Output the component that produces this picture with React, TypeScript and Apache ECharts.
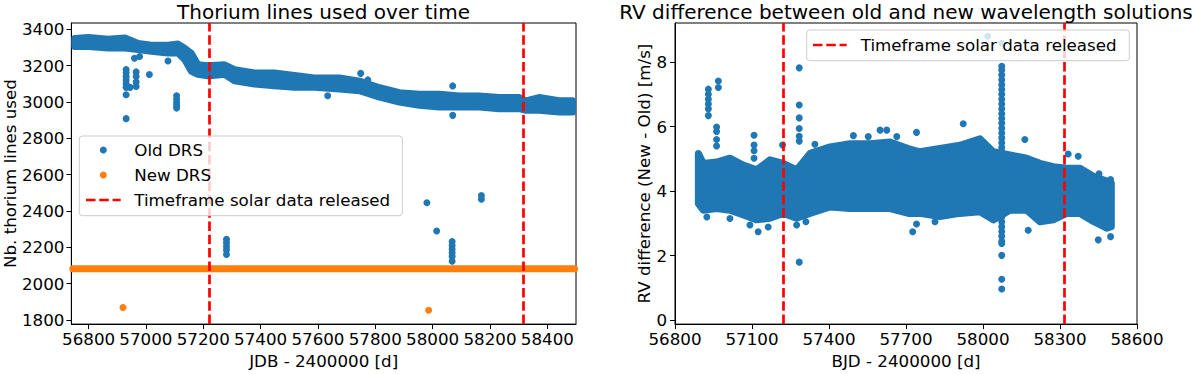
import React, { useEffect, useRef } from 'react';
import * as echarts from 'echarts';

const BLUE = '#1f77b4';
const ORANGE = '#ff7f0e';
const RED = '#ff0000';
const FONT = 'DejaVu Sans';

// ---------- Left panel: Thorium lines used over time ----------
const thBandX = [56752, 56800, 56868, 56927, 56973, 57019, 57077, 57112, 57135, 57158, 57181, 57216, 57274, 57309, 57379, 57448, 57518, 57587, 57675, 57745, 57815, 57884, 57954, 58023, 58093, 58162, 58232, 58302, 58325, 58371, 58441, 58488];
const thBandTop = [3349, 3354, 3345, 3352, 3322, 3312, 3312, 3318, 3295, 3268, 3204, 3199, 3204, 3177, 3159, 3159, 3145, 3132, 3132, 3114, 3078, 3051, 3042, 3042, 3033, 3033, 3024, 3024, 3006, 3024, 3006, 3006];
const thBandBottom = [3305, 3305, 3296, 3296, 3288, 3278, 3269, 3269, 3234, 3170, 3152, 3143, 3152, 3116, 3098, 3089, 3080, 3080, 3071, 3062, 3026, 2999, 2981, 2972, 2972, 2972, 2963, 2963, 2954, 2954, 2945, 2945];
const thOldOutX = [56931, 56931, 56931, 56931, 56931, 56931, 56931, 56931, 56945, 56966, 56966, 56966, 56966, 56960, 56978, 57077, 57012, 57107, 57107, 57107, 57107, 57107, 57634, 57749, 57774, 58070, 58070, 57281, 57281, 57281, 57281, 57281, 57980, 58014, 58068, 58068, 58068, 58068, 58068, 58068, 58170, 58170];
const thOldOutY = [3178, 3160, 3140, 3120, 3100, 3080, 3039, 2908, 3080, 3165, 3140, 3110, 3085, 3240, 3250, 3225, 3151, 3034, 3015, 2995, 2980, 2966, 3034, 3157, 3121, 3088, 2926, 2245, 2225, 2205, 2185, 2161, 2445, 2290, 2232, 2210, 2190, 2170, 2150, 2124, 2485, 2465];
const thNewX = [56745, 57200, 57800, 58495];
const thNewY = [2083, 2083, 2083, 2083];
const thNewOutX = [56920, 57986];
const thNewOutY = [1869, 1854];
const releaseDates = [57222, 58315];
const leftXTicks = [56800, 57000, 57200, 57400, 57600, 57800, 58000, 58200, 58400];
const leftYTicks = [1800, 2000, 2200, 2400, 2600, 2800, 3000, 3200, 3400];

// ---------- Right panel: RV difference ----------
const rvBandX = [56891, 56910, 56962, 57014, 57066, 57118, 57170, 57222, 57274, 57326, 57404, 57482, 57560, 57638, 57709, 57754, 57832, 57910, 57988, 58040, 58105, 58170, 58222, 58274, 58326, 58378, 58430, 58482, 58500];
const rvBandTop = [5.17, 4.86, 4.9, 5.02, 4.81, 4.66, 4.97, 4.86, 4.66, 5.17, 5.37, 5.47, 5.47, 5.52, 5.32, 5.22, 5.32, 5.42, 5.62, 5.22, 5.12, 5.02, 4.86, 4.76, 4.71, 4.71, 4.46, 4.31, 4.25];
const rvBandBottom = [3.61, 3.41, 3.46, 3.41, 3.26, 3.11, 3.16, 3.31, 3.16, 3.31, 3.51, 3.46, 3.46, 3.46, 3.31, 3.31, 3.21, 3.31, 3.36, 3.11, 3.41, 3.41, 3.05, 3.11, 3.31, 3.31, 3.06, 2.85, 2.9];
const rvOutX = [
  56930, 56930, 56930, 56930, 56930, 56930, 56969, 56969,
  56962, 56962, 56962, 56962,
  57108, 57108, 57108, 57108,
  57284, 57284, 57284, 57284, 57284, 57284, 57284, 57219,
  57124, 57092, 57163, 57274, 57310, 57014, 56924,
  57345, 57495, 57553, 57599, 57625, 57664, 57741, 57923, 58163, 58332, 58371, 58452, 58497,
  57726, 57741, 57813, 58176, 58449, 58497,
  58018, 58073, 58073, 58073, 58073, 58073, 58073, 58073, 58073, 58073, 58073, 58073, 58073, 58073, 58073, 58073, 58073, 58073, 58073, 58073, 58073,
  58073, 58073, 58073, 58073, 58073, 58073, 58073, 58073, 58073, 58073,
];
const rvOutY = [
  7.16, 7.0, 6.85, 6.7, 6.55, 6.34, 7.41, 7.21,
  5.99, 5.85, 5.6, 5.4,
  5.73, 5.43, 5.25, 5.02,
  7.82, 6.67, 6.27, 5.94, 5.7, 5.55, 1.8, 5.43,
  2.74, 2.95, 2.89, 2.95, 3.05, 3.15, 3.2,
  5.45, 5.72, 5.69, 5.89, 5.89, 5.69, 5.82, 6.09, 5.6, 5.15, 5.08, 4.54, 4.36,
  2.74, 2.98, 3.05, 2.79, 2.49, 2.59,
  8.8, 8.58, 7.87, 7.75, 7.6, 7.45, 7.3, 7.15, 7.0, 6.85, 6.7, 6.55, 6.4, 6.25, 6.1, 5.95, 5.8, 5.65, 5.5, 5.35, 5.23,
  3.2, 3.05, 2.9, 2.75, 2.6, 2.45, 2.38, 2.01, 1.27, 0.97, 0.3,
];
const rightXTicks = [56800, 57100, 57400, 57700, 58000, 58300, 58600];
const rightYTicks = [0, 2, 4, 6, 8];

const zip = (xs: number[], ys: number[]) => xs.map((x, i) => [x, ys[i]]);

function bandSeries(idx: number, xs: number[], top: number[], bottom: number[], color: string) {
  return {
    type: 'custom',
    coordinateSystem: 'cartesian2d',
    xAxisIndex: idx,
    yAxisIndex: idx,
    silent: true,
    z: 2,
    data: [[xs[0], top[0]]],
    renderItem: (_params: any, api: any) => {
      const pts: number[][] = [];
      for (let i = 0; i < xs.length; i++) pts.push(api.coord([xs[i], top[i]]));
      for (let i = xs.length - 1; i >= 0; i--) pts.push(api.coord([xs[i], bottom[i]]));
      return {
        type: 'polygon',
        shape: { points: pts },
        style: { fill: color, stroke: color, lineWidth: 7, lineJoin: 'round' },
      };
    },
  };
}

function axisCommon(ticks: number[], margin: number) {
  return {
    type: 'value',
    splitLine: { show: false },
    axisLine: { show: true, onZero: false, lineStyle: { color: '#000', width: 1 } },
    axisTick: { show: true, length: 5, inside: false, lineStyle: { color: '#000' }, customValues: ticks },
    axisLabel: {
      customValues: ticks,
      fontSize: 16.7,
      color: '#000',
      fontFamily: FONT,
      margin,
      hideOverlap: false,
      showMinLabel: true,
      showMaxLabel: true,
      formatter: (v: number) => String(v),
    },
    nameLocation: 'middle',
    nameTextStyle: { fontSize: 16.7, color: '#000', fontFamily: FONT },
  };
}

function redLines(idx: number) {
  return {
    type: 'line',
    xAxisIndex: idx,
    yAxisIndex: idx,
    data: [],
    z: 10,
    silent: true,
    markLine: {
      symbol: ['none', 'none'],
      silent: true,
      animation: false,
      label: { show: false },
      lineStyle: { color: RED, width: 2.7, type: [9.5, 3.8] },
      data: releaseDates.map((d) => ({ xAxis: d })),
    },
  };
}

export default function App() {
  const ref = useRef<HTMLDivElement>(null);
  useEffect(() => {
    if (!ref.current) return;
    const chart = echarts.init(ref.current, undefined, { renderer: 'svg' });
    const textStyle = { fontFamily: FONT, fill: '#000' };
    chart.setOption({
      animation: false,
      backgroundColor: '#fff',
      textStyle: { fontFamily: FONT },
      grid: [
        { left: 71, top: 23, width: 505, height: 306, show: true, borderColor: '#000', borderWidth: 1, backgroundColor: 'transparent' },
        { left: 675, top: 23, width: 462, height: 306, show: true, borderColor: '#000', borderWidth: 1, backgroundColor: 'transparent' },
      ],
      xAxis: [
        { ...axisCommon(leftXTicks, 6), gridIndex: 0, min: 56740, max: 58500, name: 'JDB - 2400000 [d]', nameGap: 23 },
        { ...axisCommon(rightXTicks, 6), gridIndex: 1, min: 56800, max: 58600, name: 'BJD - 2400000 [d]', nameGap: 23 },
      ],
      yAxis: [
        { ...axisCommon(leftYTicks, 7), gridIndex: 0, min: 1778, max: 3434, name: 'Nb. thorium lines used', nameGap: 53 },
        { ...axisCommon(rightYTicks, 8), gridIndex: 1, min: -0.12, max: 9.21, name: 'RV difference (New - Old) [m/s]', nameGap: 21 },
      ],
      series: [
        bandSeries(0, thBandX, thBandTop, thBandBottom, BLUE),
        {
          type: 'scatter', name: 'Old DRS', xAxisIndex: 0, yAxisIndex: 0, symbolSize: 7, z: 3, silent: true,
          itemStyle: { color: BLUE, opacity: 1 }, data: zip(thOldOutX, thOldOutY),
        },
        {
          type: 'line', name: 'New DRS', xAxisIndex: 0, yAxisIndex: 0, symbol: 'none', z: 4, silent: true,
          lineStyle: { color: ORANGE, width: 7, cap: 'round' }, data: zip(thNewX, thNewY),
        },
        {
          type: 'scatter', name: 'New DRS outliers', xAxisIndex: 0, yAxisIndex: 0, symbolSize: 7, z: 4, silent: true,
          itemStyle: { color: ORANGE, opacity: 1 }, data: zip(thNewOutX, thNewOutY),
        },
        redLines(0),
        bandSeries(1, rvBandX, rvBandTop, rvBandBottom, BLUE),
        {
          type: 'scatter', name: 'RV difference', xAxisIndex: 1, yAxisIndex: 1, symbolSize: 7, z: 3, silent: true,
          itemStyle: { color: BLUE, opacity: 1 }, data: zip(rvOutX, rvOutY),
        },
        redLines(1),
      ],
      graphic: [
        { type: 'text', z: 100, x: 323.5, y: 12, style: { ...textStyle, text: 'Thorium lines used over time', fontSize: 20, lineHeight: 20, textAlign: 'center', textVerticalAlign: 'middle' } },
        { type: 'text', z: 100, x: 906, y: 12, style: { ...textStyle, text: 'RV difference between old and new wavelength solutions', fontSize: 20, lineHeight: 20, textAlign: 'center', textVerticalAlign: 'middle' } },
        // left legend
        { type: 'rect', z: 100, shape: { x: 79.3, y: 136, width: 323, height: 79.7, r: 3 }, style: { fill: 'rgba(255,255,255,0.8)', stroke: '#cccccc', lineWidth: 1 } },
        { type: 'circle', z: 101, shape: { cx: 103.3, cy: 150, r: 3.5 }, style: { fill: BLUE } },
        { type: 'circle', z: 101, shape: { cx: 103.3, cy: 175, r: 3.5 }, style: { fill: ORANGE } },
        { type: 'line', z: 101, shape: { x1: 86, y1: 200, x2: 120.7, y2: 200 }, style: { stroke: RED, lineWidth: 2.7, lineDash: [9.5, 3.8] } },
        { type: 'text', z: 101, x: 134.3, y: 150, style: { ...textStyle, text: 'Old DRS', fontSize: 16.7, textVerticalAlign: 'middle' } },
        { type: 'text', z: 101, x: 134.3, y: 175, style: { ...textStyle, text: 'New DRS', fontSize: 16.7, textVerticalAlign: 'middle' } },
        { type: 'text', z: 101, x: 134.3, y: 200, style: { ...textStyle, text: 'Timeframe solar data released', fontSize: 16.7, textVerticalAlign: 'middle' } },
        // right legend
        { type: 'rect', z: 100, shape: { x: 806.7, y: 30, width: 322.6, height: 30.7, r: 3 }, style: { fill: 'rgba(255,255,255,0.8)', stroke: '#cccccc', lineWidth: 1 } },
        { type: 'line', z: 101, shape: { x1: 813, y1: 45, x2: 846.7, y2: 45 }, style: { stroke: RED, lineWidth: 2.7, lineDash: [9.5, 3.8] } },
        { type: 'text', z: 101, x: 860.7, y: 45, style: { ...textStyle, text: 'Timeframe solar data released', fontSize: 16.7, textVerticalAlign: 'middle' } },
      ],
    });
    return () => chart.dispose();
  }, []);
  return <div ref={ref} style={{ position: 'fixed', left: 0, top: 0, width: 1200, height: 374 }} />;
}
